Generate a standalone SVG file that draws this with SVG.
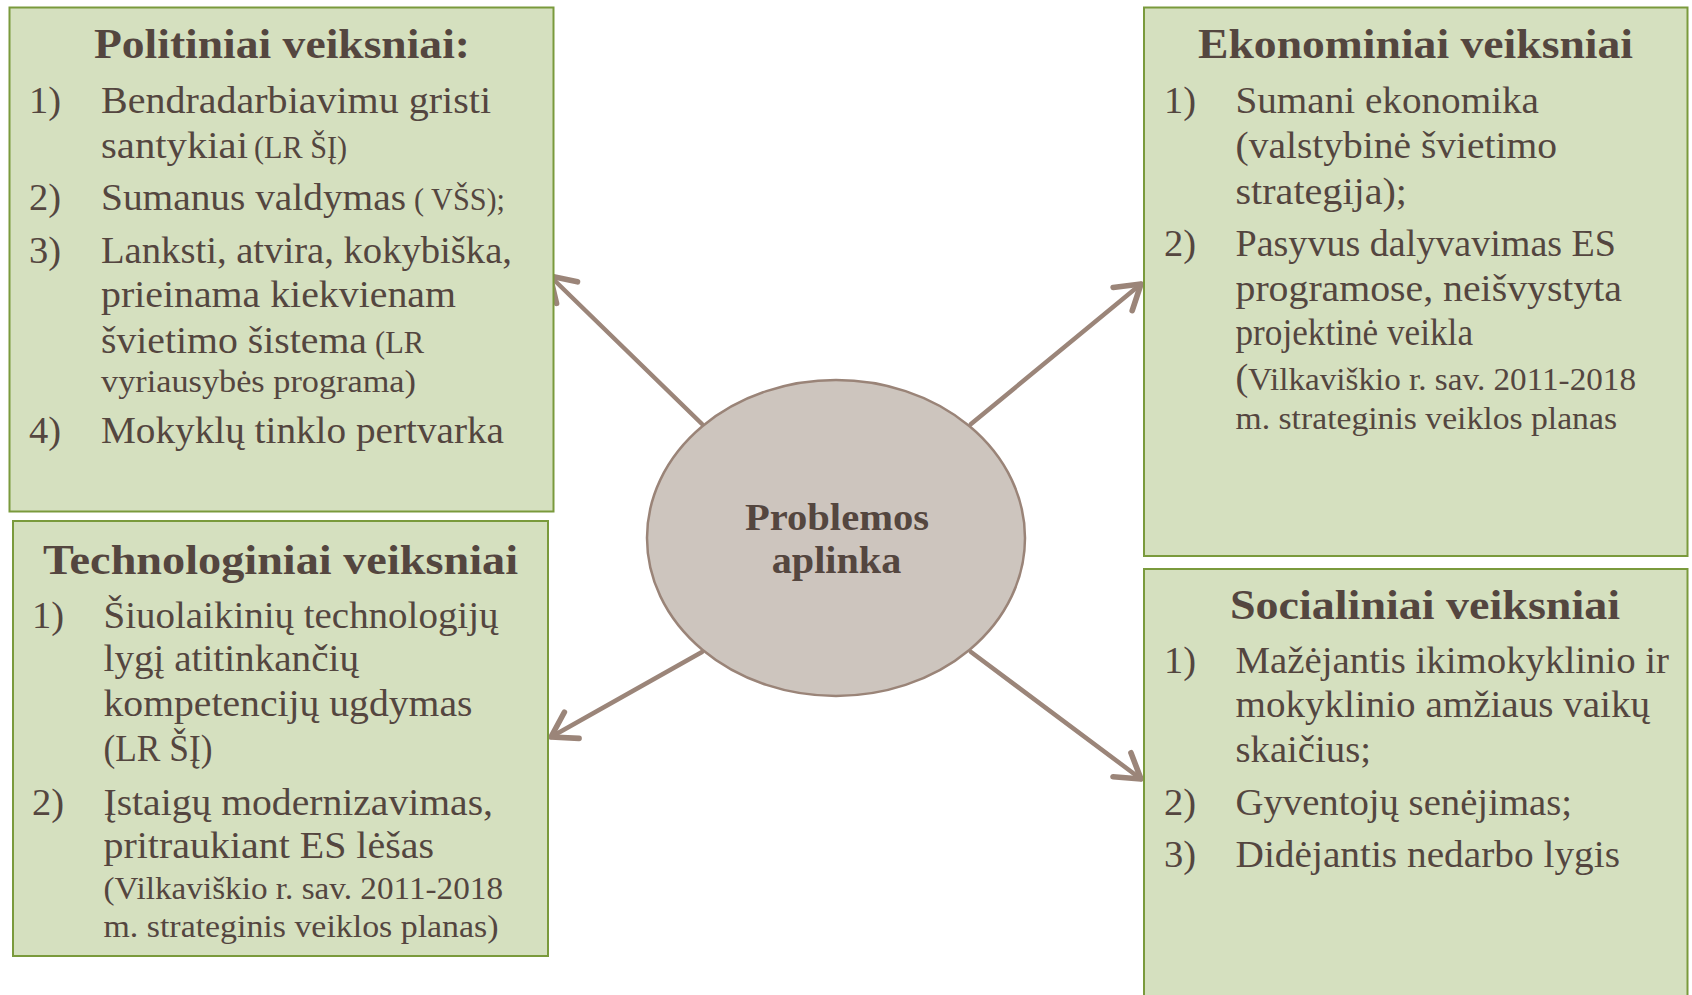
<svg xmlns="http://www.w3.org/2000/svg" width="1692" height="995" viewBox="0 0 1692 995">
<style>
.box{fill:#d5e0bf;stroke:#7a9a3c;stroke-width:2}
.ell{fill:#cdc5be;stroke:#9a8478;stroke-width:2.5}
.t{font-family:"Liberation Serif",serif;fill:#54463f;font-size:38.5px}
.h{font-weight:bold;font-size:41.5px}
.c{font-weight:bold;font-size:38.5px}
.s{font-size:31px}
.ln{fill:none;stroke:#9b8579;stroke-width:4.5;stroke-linecap:round}
</style>
<defs>
<marker id="arr" markerUnits="userSpaceOnUse" markerWidth="40" markerHeight="40" viewBox="-24 -16 30 32" refX="0" refY="0" orient="auto">
<path d="M-19,-12 L0,0 L-19,12" fill="none" stroke="#9b8579" stroke-width="4.5" stroke-linecap="round" stroke-linejoin="round"/>
</marker>
</defs>
<rect width="1692" height="995" fill="#ffffff"/>
<g id="connectors">
<line class="ln" x1="702" y1="424" x2="550" y2="276" marker-end="url(#arr)"/>
<line class="ln" x1="971" y1="424" x2="1141" y2="284" marker-end="url(#arr)"/>
<line class="ln" x1="702" y1="652" x2="551" y2="737" marker-end="url(#arr)"/>
<line class="ln" x1="971" y1="652" x2="1141" y2="779" marker-end="url(#arr)"/>
</g>
<g id="politiniai">
<rect class="box" x="9.5" y="7.5" width="544" height="504"/>
<g transform="translate(0,2)">
<text class="t h" x="94" y="56" textLength="376" lengthAdjust="spacingAndGlyphs">Politiniai veiksniai:</text>
<text class="t" x="29" y="111">1)</text>
<text class="t" x="101" y="111" textLength="390" lengthAdjust="spacingAndGlyphs">Bendradarbiavimu gristi</text>
<text class="t" x="101" y="156" textLength="147" lengthAdjust="spacingAndGlyphs">santykiai</text>
<text class="t s" x="254" y="156" textLength="93" lengthAdjust="spacingAndGlyphs">(LR ŠĮ)</text>
<text class="t" x="29" y="208">2)</text>
<text class="t" x="101" y="208" textLength="305" lengthAdjust="spacingAndGlyphs">Sumanus valdymas</text>
<text class="t s" x="414" y="208" textLength="91" lengthAdjust="spacingAndGlyphs">( VŠS);</text>
<text class="t" x="29" y="261">3)</text>
<text class="t" x="101" y="261" textLength="411" lengthAdjust="spacingAndGlyphs">Lanksti, atvira, kokybiška,</text>
<text class="t" x="101" y="305" textLength="355" lengthAdjust="spacingAndGlyphs">prieinama kiekvienam</text>
<text class="t" x="101" y="351" textLength="266" lengthAdjust="spacingAndGlyphs">švietimo šistema</text>
<text class="t s" x="375" y="351" textLength="49" lengthAdjust="spacingAndGlyphs">(LR</text>
<text class="t s" x="101" y="390" textLength="315" lengthAdjust="spacingAndGlyphs">vyriausybės programa)</text>
<text class="t" x="29" y="441">4)</text>
<text class="t" x="101" y="441" textLength="403" lengthAdjust="spacingAndGlyphs">Mokyklų tinklo pertvarka</text>
</g>
</g>
<g id="ekonominiai">
<rect class="box" x="1144" y="7.5" width="543.5" height="548.5"/>
<g transform="translate(0,2)">
<text class="t h" x="1198" y="56" textLength="435" lengthAdjust="spacingAndGlyphs">Ekonominiai veiksniai</text>
<text class="t" x="1164" y="111">1)</text>
<text class="t" x="1235.5" y="111" textLength="303.5" lengthAdjust="spacingAndGlyphs">Sumani ekonomika</text>
<text class="t" x="1235.5" y="156" textLength="321.5" lengthAdjust="spacingAndGlyphs">(valstybinė švietimo</text>
<text class="t" x="1235.5" y="202" textLength="171.5" lengthAdjust="spacingAndGlyphs">strategija);</text>
<text class="t" x="1164" y="253.5">2)</text>
<text class="t" x="1235.5" y="253.5" textLength="380.5" lengthAdjust="spacingAndGlyphs">Pasyvus dalyvavimas ES</text>
<text class="t" x="1235.5" y="299" textLength="386.5" lengthAdjust="spacingAndGlyphs">programose, neišvystyta</text>
<text class="t" x="1235.5" y="343" textLength="237.5" lengthAdjust="spacingAndGlyphs">projektinė veikla</text>
<text class="t" x="1235.5" y="388">(</text>
<text class="t s" x="1248" y="388" textLength="388" lengthAdjust="spacingAndGlyphs">Vilkaviškio r. sav. 2011-2018</text>
<text class="t s" x="1235.5" y="427" textLength="381.5" lengthAdjust="spacingAndGlyphs">m. strateginis veiklos planas</text>
</g>
</g>
<g id="technologiniai">
<rect class="box" x="13" y="521" width="535" height="435"/>
<g transform="translate(0,2)">
<text class="t h" x="43" y="572" textLength="475" lengthAdjust="spacingAndGlyphs">Technologiniai veiksniai</text>
<text class="t" x="32" y="626">1)</text>
<text class="t" x="103.5" y="626" textLength="395" lengthAdjust="spacingAndGlyphs">Šiuolaikinių technologijų</text>
<text class="t" x="103.5" y="669" textLength="255.5" lengthAdjust="spacingAndGlyphs">lygį atitinkančių</text>
<text class="t" x="103.5" y="714" textLength="369" lengthAdjust="spacingAndGlyphs">kompetencijų ugdymas</text>
<text class="t" x="103.5" y="758.5" textLength="109" lengthAdjust="spacingAndGlyphs">(LR ŠĮ)</text>
<text class="t" x="32" y="812.5">2)</text>
<text class="t" x="103.5" y="812.5" textLength="389.5" lengthAdjust="spacingAndGlyphs">Įstaigų modernizavimas,</text>
<text class="t" x="103.5" y="855.5" textLength="330.5" lengthAdjust="spacingAndGlyphs">pritraukiant ES lėšas</text>
<text class="t s" x="103.5" y="896.5" textLength="399.5" lengthAdjust="spacingAndGlyphs">(Vilkaviškio r. sav. 2011-2018</text>
<text class="t s" x="103.5" y="934.5" textLength="395" lengthAdjust="spacingAndGlyphs">m. strateginis veiklos planas)</text>
</g>
</g>
<g id="socialiniai">
<rect class="box" x="1144" y="569" width="543.5" height="440"/>
<g transform="translate(0,2)">
<text class="t h" x="1230" y="617" textLength="390" lengthAdjust="spacingAndGlyphs">Socialiniai veiksniai</text>
<text class="t" x="1164" y="671">1)</text>
<text class="t" x="1235.5" y="671" textLength="433.5" lengthAdjust="spacingAndGlyphs">Mažėjantis ikimokyklinio ir</text>
<text class="t" x="1235.5" y="715" textLength="414.5" lengthAdjust="spacingAndGlyphs">mokyklinio amžiaus vaikų</text>
<text class="t" x="1235.5" y="760" textLength="135.5" lengthAdjust="spacingAndGlyphs">skaičius;</text>
<text class="t" x="1164" y="812.5">2)</text>
<text class="t" x="1235.5" y="812.5" textLength="336.5" lengthAdjust="spacingAndGlyphs">Gyventojų senėjimas;</text>
<text class="t" x="1164" y="865">3)</text>
<text class="t" x="1235.5" y="865" textLength="384.5" lengthAdjust="spacingAndGlyphs">Didėjantis nedarbo lygis</text>
</g>
</g>
<g id="problemos">
<ellipse class="ell" cx="836" cy="538" rx="189" ry="158"/>
<text class="t c" x="837" y="530" text-anchor="middle" textLength="184" lengthAdjust="spacingAndGlyphs">Problemos</text>
<text class="t c" x="836.5" y="573" text-anchor="middle" textLength="129.5" lengthAdjust="spacingAndGlyphs">aplinka</text>
</g>
</svg>
